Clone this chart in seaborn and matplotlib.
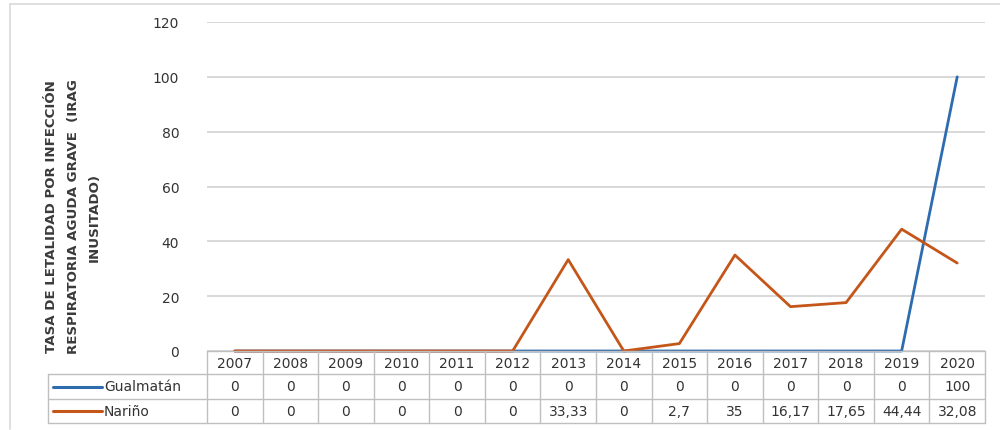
import matplotlib
matplotlib.use("Agg")
import matplotlib.pyplot as plt
import matplotlib.transforms as mtransforms
from matplotlib.lines import Line2D
import seaborn as sns
import pandas as pd

years = ["2007", "2008", "2009", "2010", "2011", "2012", "2013",
         "2014", "2015", "2016", "2017", "2018", "2019", "2020"]
gualmatan = [0, 0, 0, 0, 0, 0, 0, 0, 0, 0, 0, 0, 0, 100]
narino = [0, 0, 0, 0, 0, 0, 33.33, 0, 2.7, 35, 16.17, 17.65, 44.44, 32.08]
gualmatan_labels = ["0"] * 13 + ["100"]
narino_labels = ["0", "0", "0", "0", "0", "0", "33,33", "0", "2,7", "35",
                 "16,17", "17,65", "44,44", "32,08"]
series_names = ["Gualmatán", "Nariño"]
colors = ["#2E6CB0", "#C4561A"]
ylabel = "TASA DE LETALIDAD POR INFECCIÓN\nRESPIRATORIA AGUDA GRAVE  (IRAG\nINUSITADO)"

sns.set_theme(style="white")
plt.rcParams['font.family'] = ['DejaVu Sans']

W, H = 1000, 431
fig = plt.figure(figsize=(W / 100, H / 100), dpi=100)
ax = fig.add_axes([207 / W, 1 - 352 / H, (985 - 207) / W, (352 - 23) / H])

df = pd.DataFrame({
    "x": list(range(len(years))) * 2,
    "val": gualmatan + narino,
    "serie": [series_names[0]] * len(years) + [series_names[1]] * len(years),
})
sns.lineplot(data=df, x="x", y="val", hue="serie", palette=colors,
             linewidth=2.0, ax=ax, legend=False, clip_on=False, zorder=3)

ax.set_xlim(-0.5, len(years) - 0.5)
ax.set_ylim(0, 120)
ax.set_yticks(range(0, 121, 20))
ax.set_yticklabels([str(v) for v in range(0, 121, 20)], fontsize=10, color="#333333")
ax.tick_params(axis="y", length=0, pad=20)
ax.set_xticks([])
ax.set_xlabel("")
ax.set_ylabel("")
ax.grid(axis="y", color="#D5D5D5", linewidth=1.3)
for s in ax.spines.values():
    s.set_visible(False)

# y-axis title
fig.text(73 / W, 1 - 217 / H, ylabel, rotation=90, ha="center", va="center",
         fontsize=9.6, fontweight="bold", color="#3A3A3A", linespacing=1.85,
         family=['DejaVu Sans'])

# data table
bt = mtransforms.blended_transform_factory(ax.transData, fig.transFigure)
ff = fig.transFigure
def fy(p):
    return 1 - p / H

grid_c = "#BFBFBF"
row_edges = [352, 375, 400, 424]
n = len(years)
fig.add_artist(Line2D([-0.5, n - 0.5], [fy(352)] * 2, transform=bt, color=grid_c, lw=1))
for yy in row_edges[1:]:
    fig.add_artist(Line2D([48 / W, 985 / W], [fy(yy)] * 2, transform=ff, color=grid_c, lw=1))
for i in range(n + 1):
    fig.add_artist(Line2D([i - 0.5, i - 0.5], [fy(352), fy(424)], transform=bt, color=grid_c, lw=1))
fig.add_artist(Line2D([48 / W, 48 / W], [fy(375), fy(424)], transform=ff, color=grid_c, lw=1))

txt_c = "#333333"
for i, yr in enumerate(years):
    fig.text(i, fy(363.5), yr, transform=bt, ha="center", va="center", fontsize=10, color=txt_c)
    fig.text(i, fy(387.5), gualmatan_labels[i], transform=bt, ha="center", va="center", fontsize=10, color=txt_c)
    fig.text(i, fy(412), narino_labels[i], transform=bt, ha="center", va="center", fontsize=10, color=txt_c)

for name, col, yc in zip(series_names, colors, [387.5, 412]):
    fig.add_artist(Line2D([53 / W, 102 / W], [fy(yc)] * 2, transform=ff, color=col, lw=2.2))
    fig.text(104 / W, fy(yc), name, ha="left", va="center", fontsize=10, color=txt_c)

# outer frame
fig.add_artist(Line2D([10 / W, 1.0], [fy(5)] * 2, transform=ff, color="#D9D9D9", lw=1.2))
fig.add_artist(Line2D([10 / W, 10 / W], [fy(5), fy(430)], transform=ff, color="#D9D9D9", lw=1.2))

fig.savefig("out.png", dpi=100)
